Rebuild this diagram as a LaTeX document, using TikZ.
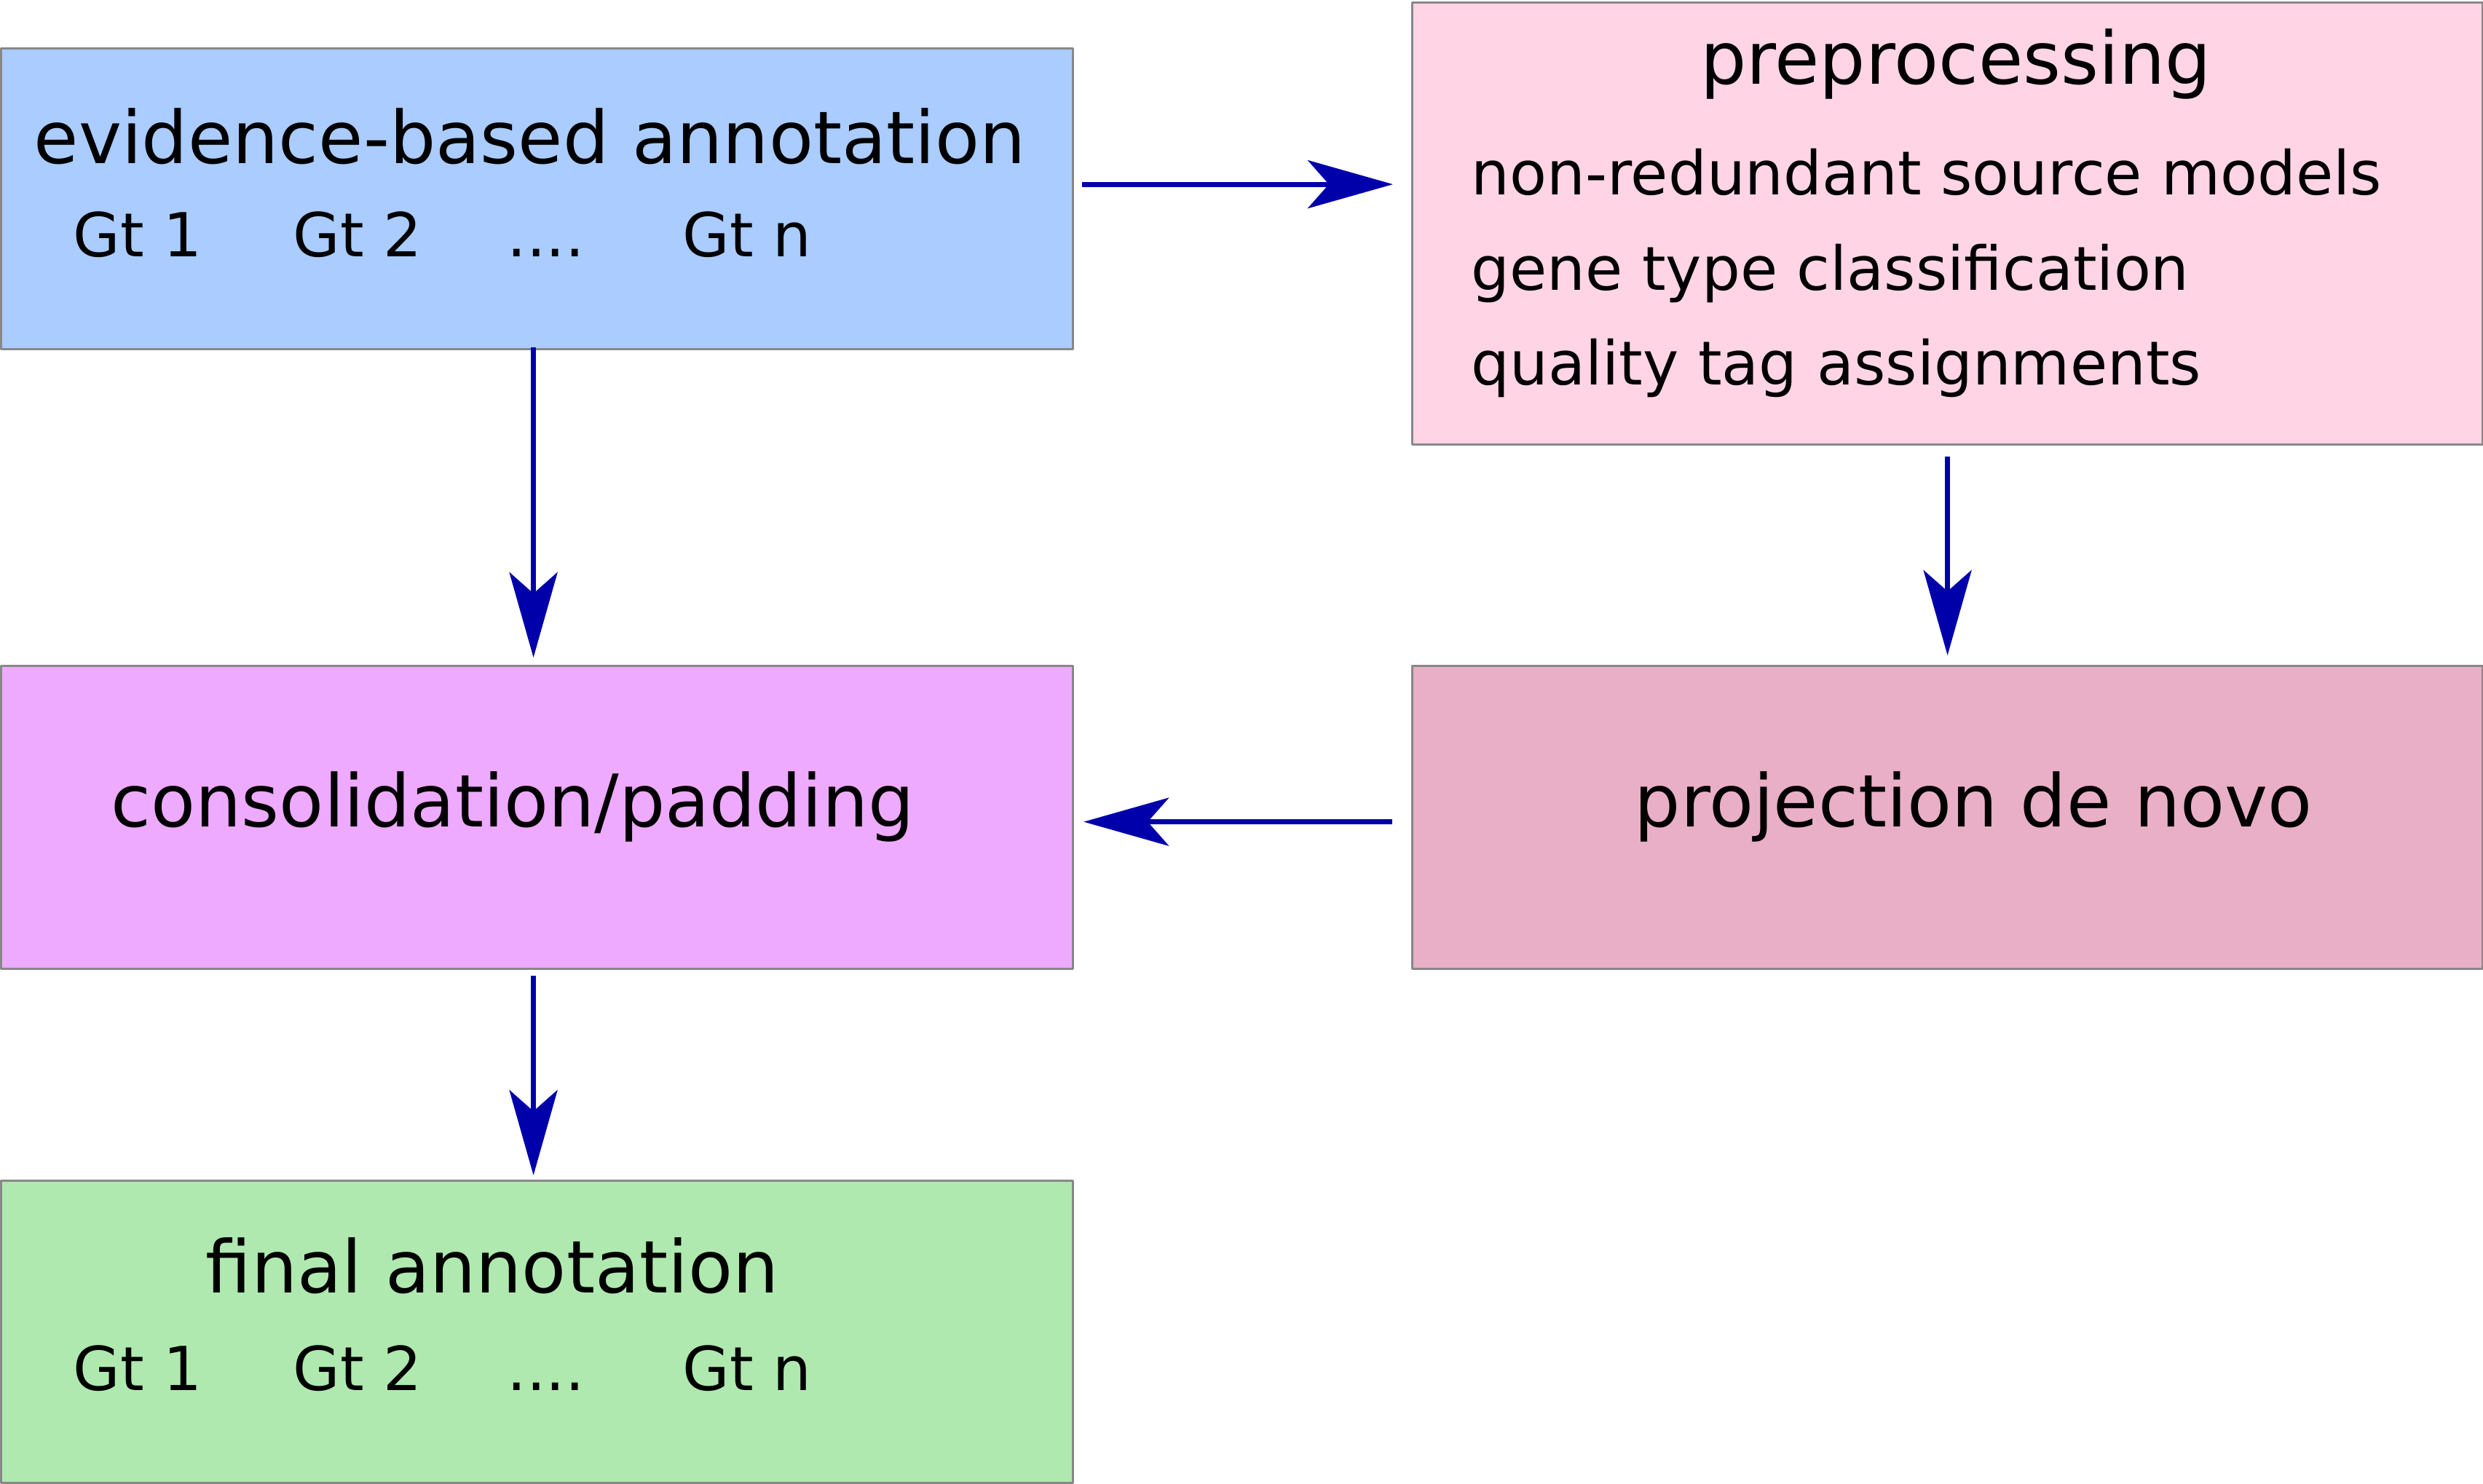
\documentclass[tikz,border=0pt]{standalone}
\usepackage{fontspec}
\setmainfont{DejaVu Sans}
\usetikzlibrary{arrows.meta}
\definecolor{evidblue}{RGB}{170,204,255}
\definecolor{prepink}{RGB}{255,213,229}
\definecolor{conspurple}{RGB}{238,170,255}
\definecolor{projmauve}{RGB}{233,175,198}
\definecolor{finalgreen}{RGB}{175,233,175}
\definecolor{boxgray}{RGB}{136,136,136}
\definecolor{flowblue}{RGB}{0,0,170}
\newcommand{\gtdots}{....}
\begin{document}
\begin{tikzpicture}[line join=round,
		box/.style={draw=boxgray,line width=0.9pt,inner sep=0pt,anchor=north west,minimum width=14.72cm},
		big/.style={font=\fontsize{28.4}{34}\selectfont,inner sep=0pt},
		small/.style={font=\fontsize{23.7}{28}\selectfont,inner sep=0pt},
		flow/.style={draw=flowblue,line width=2pt,-{Stealth[length=1.17cm,width=0.66cm,inset=0.29cm,fill=flowblue]}}]
	\useasboundingbox (0,0) rectangle (34.10,-20.37);
	% boxes
	\node[box,fill=evidblue,minimum height=4.13cm] (evid) at (0,-0.65) {};
	\node[box,fill=prepink,minimum width=14.70cm,minimum height=6.07cm] (prep) at (19.38,-0.02) {};
	\node[box,fill=conspurple,minimum height=4.16cm] (cons) at (0,-9.13) {};
	\node[box,fill=projmauve,minimum width=14.70cm,minimum height=4.16cm] (proj) at (19.38,-9.13) {};
	\node[box,fill=finalgreen,minimum height=4.15cm] (final) at (0,-16.20) {};
	% texts
	\node[big,anchor=base west] (evidtitle) at (0.46,-2.24) {evidence-based annotation};
	\node[big,anchor=base] (preptitle) at (26.86,-1.15) {preprocessing};
	\node[small,anchor=base west] (prepa) at (20.20,-2.67) {non-redundant source models};
	\node[small,anchor=base west] (prepb) at (20.20,-3.98) {gene type classification};
	\node[small,anchor=base west] (prepc) at (20.20,-5.28) {quality tag assignments};
	\node[big,anchor=base west] (constitle) at (1.52,-11.35) {consolidation/padding};
	\node[big,anchor=base west] (projtitle) at (22.44,-11.35) {projection de novo};
	\node[big,anchor=base] (finaltitle) at (6.76,-17.75) {final annotation};
	\foreach \x/\t [count=\i] in {1.00/Gt 1,4.02/Gt 2,6.96/\gtdots,9.37/Gt n}{
		\node[small,anchor=base west] (evidgt\i) at (\x,-3.52) {\t};
		\node[small,anchor=base west] (finalgt\i) at (\x,-19.09) {\t};
	}
	% arrows
	\draw[flow,shorten <=0.11cm,shorten >=0.25cm] ([yshift=0.2cm]evid.east) -- ([yshift=0.2cm]evid.east -| prep.west);
	\draw[flow,shorten <=-0.04cm,shorten >=0.1cm] ([xshift=-0.05cm]evid.south) -- ([xshift=-0.05cm]cons.north);
	\draw[flow,shorten <=0.15cm,shorten >=0.13cm] (prep.south) -- (prep.south |- proj.north);
	\draw[flow,shorten <=0.26cm,shorten >=0.13cm] ([yshift=-0.06cm]proj.west) -- ([yshift=-0.06cm]cons.east);
	\draw[flow,shorten <=0.08cm,shorten >=0.06cm] ([xshift=-0.05cm]cons.south) -- ([xshift=-0.05cm]final.north);
\end{tikzpicture}
\end{document}
